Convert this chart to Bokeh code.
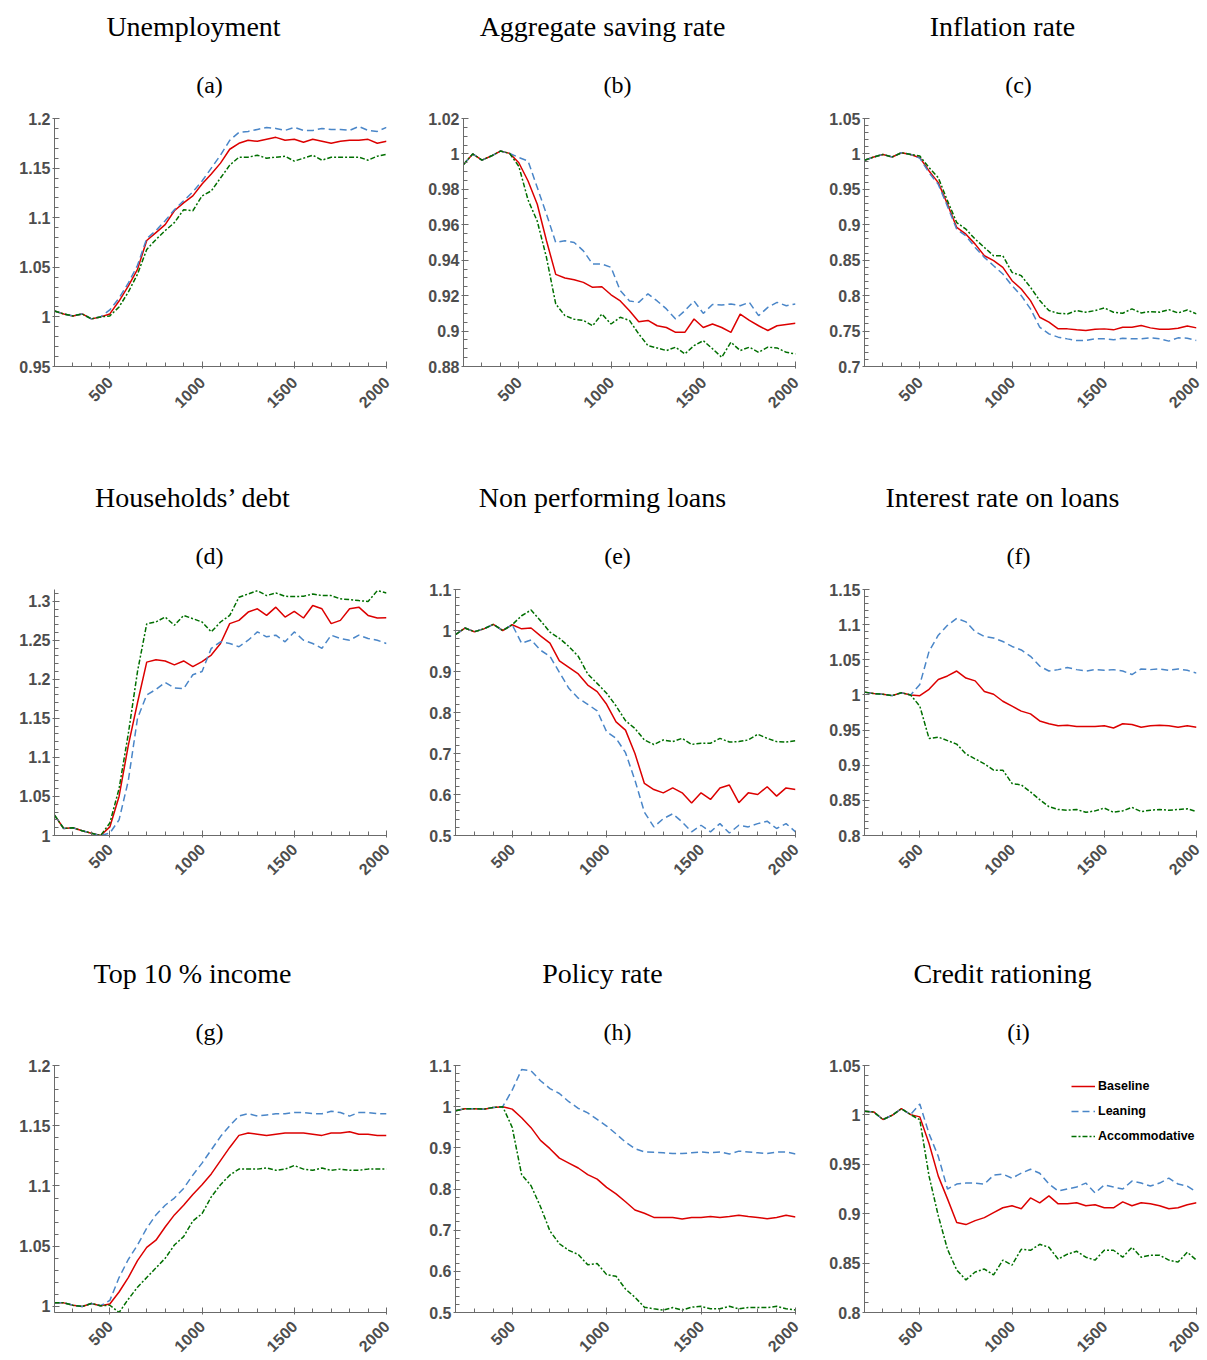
from math import pi
from bokeh.plotting import figure
from bokeh.models import (Range1d, FixedTicker, NumeralTickFormatter, Title, Legend, LegendItem)
from bokeh.layouts import column, row
from bokeh.embed import file_html
from bokeh.resources import INLINE

# ---------------- data ----------------
time = list(range(200, 2001, 50))

unemp_base = [1.006, 1.003, 1.001, 1.003, 0.998, 1.000, 1.003, 1.016, 1.031, 1.048, 1.077, 1.085, 1.093, 1.107, 1.115, 1.122, 1.134, 1.144, 1.155, 1.169, 1.175, 1.178, 1.177, 1.179, 1.181, 1.178, 1.179, 1.176, 1.179, 1.177, 1.175, 1.177, 1.178, 1.178, 1.179, 1.175, 1.177]
unemp_lean = [1.006, 1.003, 1.001, 1.003, 0.998, 1.000, 1.007, 1.019, 1.034, 1.052, 1.079, 1.087, 1.097, 1.108, 1.117, 1.126, 1.137, 1.150, 1.163, 1.178, 1.186, 1.187, 1.189, 1.191, 1.190, 1.188, 1.191, 1.188, 1.188, 1.190, 1.189, 1.189, 1.188, 1.192, 1.188, 1.187, 1.191]
unemp_acc = [1.006, 1.003, 1.001, 1.003, 0.998, 1.000, 1.001, 1.010, 1.025, 1.043, 1.068, 1.078, 1.087, 1.095, 1.108, 1.107, 1.122, 1.127, 1.140, 1.153, 1.161, 1.161, 1.163, 1.160, 1.161, 1.162, 1.157, 1.160, 1.163, 1.158, 1.161, 1.161, 1.161, 1.161, 1.158, 1.162, 1.164]

saving_base = [0.994, 1.000, 0.9965, 0.9988, 1.0016, 1.0003, 0.995, 0.9847, 0.9716, 0.951, 0.932, 0.930, 0.929, 0.9275, 0.9247, 0.925, 0.9205, 0.917, 0.9115, 0.9053, 0.906, 0.903, 0.902, 0.8993, 0.8993, 0.9068, 0.902, 0.904, 0.902, 0.8993, 0.9096, 0.906, 0.903, 0.9003, 0.903, 0.9037, 0.9044]
saving_lean = [0.994, 1.000, 0.9965, 0.9988, 1.0016, 1.0003, 0.998, 0.996, 0.981, 0.966, 0.950, 0.951, 0.950, 0.9453, 0.9378, 0.9378, 0.936, 0.9228, 0.917, 0.9162, 0.921, 0.917, 0.9125, 0.9068, 0.9115, 0.917, 0.910, 0.915, 0.9147, 0.9153, 0.9143, 0.9162, 0.9087, 0.9134, 0.9162, 0.9143, 0.9153]
saving_acc = [0.994, 1.000, 0.9965, 0.9988, 1.0016, 1.0003, 0.993, 0.974, 0.962, 0.9415, 0.9153, 0.9087, 0.9067, 0.906, 0.903, 0.9096, 0.904, 0.9078, 0.906, 0.8984, 0.8918, 0.8905, 0.889, 0.8909, 0.8871, 0.8918, 0.8946, 0.890, 0.8852, 0.8937, 0.889, 0.8909, 0.888, 0.8909, 0.8905, 0.888, 0.8871]

infl_base = [0.991, 0.9956, 0.9993, 0.9956, 1.0017, 0.9993, 0.9947, 0.976, 0.9595, 0.929, 0.8962, 0.8868, 0.8727, 0.8563, 0.8493, 0.8399, 0.8211, 0.8094, 0.793, 0.7695, 0.7625, 0.7531, 0.7531, 0.7517, 0.7508, 0.7526, 0.7531, 0.7517, 0.7555, 0.7555, 0.7578, 0.7545, 0.7526, 0.7526, 0.754, 0.7573, 0.7545]
infl_lean = [0.991, 0.9956, 0.9993, 0.9956, 1.0017, 0.9993, 0.994, 0.9735, 0.957, 0.926, 0.8938, 0.8844, 0.868, 0.854, 0.8422, 0.8305, 0.814, 0.800, 0.7813, 0.7555, 0.746, 0.7414, 0.739, 0.7367, 0.7367, 0.739, 0.739, 0.7376, 0.740, 0.739, 0.739, 0.7404, 0.739, 0.7358, 0.7404, 0.740, 0.7367]
infl_acc = [0.991, 0.9956, 0.9993, 0.9956, 1.0017, 0.9993, 0.997, 0.9806, 0.9665, 0.9337, 0.9032, 0.8938, 0.8797, 0.868, 0.8563, 0.8563, 0.8328, 0.8282, 0.8117, 0.793, 0.7789, 0.7752, 0.7742, 0.7789, 0.7766, 0.7789, 0.7827, 0.7766, 0.7752, 0.7813, 0.7756, 0.7775, 0.7766, 0.7803, 0.7756, 0.7798, 0.7742]

debt_base = [1.026, 1.009, 1.010, 1.006, 1.003, 1.000, 1.011, 1.050, 1.115, 1.170, 1.222, 1.225, 1.2235, 1.2185, 1.2235, 1.2163, 1.2227, 1.2311, 1.2459, 1.2713, 1.2755, 1.2861, 1.2903, 1.2818, 1.2924, 1.2797, 1.2869, 1.2785, 1.2945, 1.2903, 1.2713, 1.2755, 1.2903, 1.2924, 1.2818, 1.2785, 1.2789]
debt_lean = [1.026, 1.009, 1.010, 1.006, 1.003, 1.000, 1.003, 1.020, 1.070, 1.150, 1.180, 1.187, 1.1961, 1.1889, 1.188, 1.2058, 1.210, 1.2396, 1.248, 1.2459, 1.2417, 1.2501, 1.2607, 1.2544, 1.2565, 1.248, 1.2607, 1.2501, 1.2459, 1.2396, 1.2565, 1.2523, 1.2501, 1.2565, 1.2523, 1.2501, 1.2459]
debt_acc = [1.026, 1.009, 1.010, 1.006, 1.003, 1.000, 1.016, 1.060, 1.130, 1.210, 1.271, 1.2734, 1.2797, 1.2692, 1.2818, 1.2776, 1.2734, 1.2607, 1.2734, 1.2818, 1.305, 1.3093, 1.3135, 1.3072, 1.3106, 1.3063, 1.3059, 1.3063, 1.3093, 1.3072, 1.3072, 1.303, 1.3021, 1.3008, 1.2996, 1.3135, 1.3106]

npl_base = [0.990, 1.006, 0.997, 1.004, 1.015, 1.000, 1.014, 1.004, 1.006, 0.987, 0.969, 0.926, 0.910, 0.894, 0.867, 0.851, 0.820, 0.777, 0.757, 0.700, 0.627, 0.612, 0.604, 0.616, 0.604, 0.579, 0.604, 0.588, 0.616, 0.623, 0.580, 0.604, 0.600, 0.619, 0.596, 0.616, 0.612]
npl_lean = [0.990, 1.006, 0.997, 1.004, 1.015, 1.000, 1.014, 0.969, 0.977, 0.952, 0.937, 0.898, 0.859, 0.835, 0.820, 0.804, 0.753, 0.737, 0.702, 0.635, 0.557, 0.521, 0.541, 0.553, 0.533, 0.509, 0.525, 0.509, 0.529, 0.506, 0.525, 0.521, 0.529, 0.535, 0.517, 0.529, 0.509]
npl_acc = [0.990, 1.006, 0.997, 1.004, 1.015, 1.000, 1.014, 1.036, 1.050, 1.024, 0.996, 0.981, 0.961, 0.937, 0.894, 0.871, 0.847, 0.816, 0.780, 0.761, 0.733, 0.722, 0.733, 0.729, 0.737, 0.722, 0.725, 0.725, 0.737, 0.728, 0.729, 0.733, 0.747, 0.737, 0.729, 0.728, 0.731]

loanrate_base = [1.004, 1.002, 1.001, 0.999, 1.003, 1.000, 0.999, 1.008, 1.022, 1.027, 1.034, 1.024, 1.020, 1.005, 1.001, 0.991, 0.984, 0.977, 0.973, 0.963, 0.959, 0.956, 0.957, 0.955, 0.955, 0.955, 0.956, 0.953, 0.959, 0.958, 0.954, 0.956, 0.957, 0.956, 0.954, 0.956, 0.954]
loanrate_lean = [1.004, 1.002, 1.001, 0.999, 1.003, 1.000, 1.015, 1.062, 1.085, 1.099, 1.109, 1.104, 1.090, 1.083, 1.081, 1.076, 1.069, 1.064, 1.055, 1.041, 1.034, 1.036, 1.039, 1.036, 1.034, 1.036, 1.035, 1.036, 1.034, 1.029, 1.037, 1.036, 1.037, 1.035, 1.037, 1.035, 1.031]
loanrate_acc = [1.004, 1.002, 1.001, 0.999, 1.003, 1.000, 0.984, 0.938, 0.940, 0.935, 0.930, 0.916, 0.909, 0.902, 0.893, 0.893, 0.874, 0.872, 0.862, 0.851, 0.841, 0.837, 0.836, 0.837, 0.833, 0.835, 0.839, 0.833, 0.835, 0.840, 0.834, 0.836, 0.837, 0.836, 0.837, 0.838, 0.834]

top10_base = [1.003, 1.003, 1.001, 1.000, 1.0025, 1.0006, 1.002, 1.012, 1.024, 1.038, 1.049, 1.055, 1.066, 1.076, 1.084, 1.093, 1.101, 1.110, 1.121, 1.132, 1.142, 1.144, 1.143, 1.142, 1.143, 1.144, 1.144, 1.144, 1.143, 1.142, 1.144, 1.144, 1.145, 1.143, 1.143, 1.142, 1.142]
top10_lean = [1.003, 1.003, 1.001, 1.000, 1.0025, 1.0006, 1.005, 1.024, 1.039, 1.051, 1.065, 1.076, 1.084, 1.090, 1.098, 1.109, 1.119, 1.130, 1.141, 1.150, 1.158, 1.160, 1.158, 1.159, 1.160, 1.160, 1.161, 1.161, 1.160, 1.160, 1.162, 1.161, 1.158, 1.161, 1.161, 1.160, 1.160]
top10_acc = [1.003, 1.003, 1.001, 1.000, 1.0025, 1.0006, 1.001, 0.995, 1.006, 1.016, 1.024, 1.032, 1.040, 1.051, 1.058, 1.071, 1.077, 1.091, 1.101, 1.109, 1.114, 1.114, 1.114, 1.115, 1.113, 1.114, 1.117, 1.114, 1.113, 1.115, 1.113, 1.114, 1.113, 1.113, 1.114, 1.114, 1.114]

policy_base = [0.990, 0.995, 0.995, 0.994, 0.998, 1.000, 0.994, 0.973, 0.949, 0.918, 0.898, 0.875, 0.863, 0.851, 0.835, 0.824, 0.804, 0.788, 0.769, 0.749, 0.741, 0.731, 0.731, 0.731, 0.727, 0.731, 0.731, 0.733, 0.731, 0.733, 0.736, 0.733, 0.731, 0.728, 0.731, 0.736, 0.732]
policy_lean = [0.990, 0.995, 0.995, 0.994, 0.998, 1.000, 1.040, 1.090, 1.087, 1.063, 1.044, 1.032, 1.012, 0.996, 0.985, 0.969, 0.953, 0.934, 0.914, 0.898, 0.890, 0.889, 0.888, 0.886, 0.886, 0.888, 0.890, 0.888, 0.890, 0.885, 0.892, 0.890, 0.888, 0.886, 0.890, 0.890, 0.885]
policy_acc = [0.990, 0.995, 0.995, 0.994, 0.998, 1.000, 0.950, 0.835, 0.808, 0.757, 0.698, 0.667, 0.651, 0.641, 0.616, 0.619, 0.592, 0.588, 0.557, 0.537, 0.513, 0.509, 0.506, 0.512, 0.506, 0.513, 0.515, 0.509, 0.509, 0.515, 0.509, 0.512, 0.512, 0.512, 0.515, 0.509, 0.506]

ration_base = [1.0036, 1.003, 0.9953, 0.9996, 1.0063, 1.0003, 0.998, 0.971, 0.938, 0.915, 0.891, 0.889, 0.893, 0.896, 0.901, 0.906, 0.908, 0.905, 0.916, 0.911, 0.918, 0.910, 0.910, 0.911, 0.908, 0.909, 0.906, 0.906, 0.912, 0.908, 0.911, 0.910, 0.908, 0.905, 0.906, 0.909, 0.911]
ration_lean = [1.0036, 1.003, 0.9953, 0.9996, 1.0063, 1.0003, 1.011, 0.981, 0.958, 0.925, 0.930, 0.931, 0.931, 0.930, 0.939, 0.940, 0.936, 0.941, 0.945, 0.941, 0.930, 0.923, 0.925, 0.927, 0.931, 0.921, 0.929, 0.927, 0.925, 0.933, 0.931, 0.928, 0.931, 0.936, 0.930, 0.928, 0.922]
ration_acc = [1.0036, 1.003, 0.9953, 0.9996, 1.0063, 1.0003, 0.995, 0.938, 0.898, 0.864, 0.843, 0.833, 0.841, 0.844, 0.838, 0.853, 0.848, 0.864, 0.863, 0.869, 0.866, 0.854, 0.859, 0.862, 0.856, 0.853, 0.863, 0.863, 0.856, 0.866, 0.856, 0.858, 0.858, 0.853, 0.851, 0.861, 0.853]

series_names = ["Baseline", "Leaning", "Accommodative"]
x_major = [500, 1000, 1500, 2000]
x_minor = list(range(200, 2001, 100))

# ---------------- style ----------------
SANS = "Liberation Sans"
SERIF = "Liberation Serif"
GREY = "#4d4d4d"
AXIS = "#6b6b6b"
COLORS = ["#dc0000", "#4a86c8", "#006f00"]
DASHES = ["solid", "7 4", "5 2 2 2"]

# Times/Liberation Serif advance widths (per 1000 em), used to centre titles
TW = {' ': 250, '%': 833, '(': 333, ')': 333, '0': 500, '1': 500, '’': 333,
      'A': 722, 'C': 667, 'H': 722, 'I': 333, 'N': 722, 'P': 556, 'T': 611, 'U': 722,
      'a': 444, 'b': 500, 'c': 444, 'd': 500, 'e': 444, 'f': 333, 'g': 500, 'h': 500,
      'i': 278, 'k': 500, 'l': 278, 'm': 778, 'n': 500, 'o': 500, 'p': 500, 'r': 333,
      's': 389, 't': 278, 'u': 500, 'v': 500, 'y': 500}


def text_w(s, size):
    return sum(TW.get(ch, 500) for ch in s) / 1000.0 * size


def make_panel(title, letter, ys, ylo, yhi, yticks, yminor, size, borders,
               centers, standoffs, xstand, legend=False):
    w, h = size
    bl, br, bt, bb = borders
    p = figure(width=w, height=h, x_range=Range1d(200, 2000), y_range=Range1d(ylo, yhi),
               output_backend="svg", toolbar_location=None, title=None,
               min_border_left=bl, min_border_right=br, min_border_top=bt, min_border_bottom=bb)
    p.outline_line_color = None
    p.xgrid.grid_line_color = None
    p.ygrid.grid_line_color = None
    p.background_fill_color = "white"
    p.border_fill_color = "white"

    for ax in (p.xaxis[0], p.yaxis[0]):
        ax.axis_line_color = AXIS
        ax.major_tick_line_color = AXIS
        ax.minor_tick_line_color = AXIS
        ax.major_tick_in = 5
        ax.major_tick_out = 2
        ax.minor_tick_in = 4
        ax.minor_tick_out = 0
        ax.major_label_text_font = SANS
        ax.major_label_text_font_style = "bold"
        ax.major_label_text_font_size = "16px"
        ax.major_label_text_color = GREY

    xa = p.xaxis[0]
    xa.ticker = FixedTicker(ticks=x_major, minor_ticks=x_minor)
    xa.major_label_orientation = pi / 4
    xa.major_label_standoff = xstand

    ya = p.yaxis[0]
    ya.ticker = FixedTicker(ticks=yticks, minor_ticks=yminor)
    ya.formatter = NumeralTickFormatter(format="0.[00]")
    ya.major_label_standoff = 2

    renderers = []
    for vals, c, d in zip(ys, COLORS, DASHES):
        r = p.line(time, vals, line_color=c, line_width=1.5, line_dash=d)
        renderers.append(r)

    tc, sc = centers
    ts, ss = standoffs
    p.add_layout(Title(text=letter, align="left", offset=sc - bl - text_w(letter, 24) / 2,
                       standoff=ss, text_font=SERIF, text_font_size="24px",
                       text_font_style="normal", text_color="black"), "above")
    p.add_layout(Title(text=title, align="left", offset=tc - bl - text_w(title, 28) / 2,
                       standoff=ts, text_font=SERIF, text_font_size="28px",
                       text_font_style="normal", text_color="black"), "above")

    if legend:
        items = [LegendItem(label=n, renderers=[r]) for n, r in zip(series_names, renderers)]
        lg = Legend(items=items, location=(207, 166), border_line_color=None,
                    background_fill_alpha=0, padding=0, margin=0, spacing=5,
                    label_height=20, glyph_height=20, glyph_width=24, label_standoff=3,
                    label_text_font=SANS, label_text_font_style="bold",
                    label_text_font_size="12.5px", label_text_color="black")
        p.add_layout(lg)
    return p


def rng(a, step, n):
    return [round(a + i * step, 4) for i in range(n + 1)]


C1 = (193, 209)
C2 = (602 - 418, 617 - 418)
C3 = (1002 - 818, 1018 - 818)
STD = (14, 42)

pa = make_panel("Unemployment", "(a)", [unemp_base, unemp_lean, unemp_acc], 0.95, 1.2,
                [0.95, 1, 1.05, 1.1, 1.15, 1.2], rng(0.95, 0.01, 25),
                (418, 470), (54, 32, 118, 104), C1, STD, 11)
pb = make_panel("Aggregate saving rate", "(b)", [saving_base, saving_lean, saving_acc], 0.88, 1.02,
                [0.88, 0.9, 0.92, 0.94, 0.96, 0.98, 1, 1.02], rng(0.88, 0.005, 28),
                (400, 470), (45, 23, 118, 104), C2, STD, 11)
pc = make_panel("Inflation rate", "(c)", [infl_base, infl_lean, infl_acc], 0.7, 1.05,
                [0.7, 0.75, 0.8, 0.85, 0.9, 0.95, 1, 1.05], rng(0.7, 0.01, 35),
                (389, 470), (46, 11, 118, 104), C3, STD, 11)

pd_ = make_panel("Households’ debt", "(d)", [debt_base, debt_lean, debt_acc], 1.0, 1.315,
                 [1, 1.05, 1.1, 1.15, 1.2, 1.25, 1.3], rng(1.0, 0.01, 31),
                 (418, 475), (54, 32, 117, 110), C1, STD, 9)
pe = make_panel("Non performing loans", "(e)", [npl_base, npl_lean, npl_acc], 0.5, 1.1,
                [0.5, 0.6, 0.7, 0.8, 0.9, 1, 1.1], rng(0.5, 0.02, 30),
                (400, 475), (37, 23, 116, 105), C2, STD, 9)
pf = make_panel("Interest rate on loans", "(f)", [loanrate_base, loanrate_lean, loanrate_acc], 0.8, 1.15,
                [0.8, 0.85, 0.9, 0.95, 1, 1.05, 1.1, 1.15], rng(0.8, 0.01, 35),
                (389, 475), (46, 11, 119, 107), C3, STD, 9)

pg = make_panel("Top 10 % income", "(g)", [top10_base, top10_lean, top10_acc], 0.995, 1.2,
                [1, 1.05, 1.1, 1.15, 1.2], rng(1.0, 0.01, 20),
                (418, 415), (54, 32, 119, 47), C1, STD, 9)
ph = make_panel("Policy rate", "(h)", [policy_base, policy_lean, policy_acc], 0.5, 1.1,
                [0.5, 0.6, 0.7, 0.8, 0.9, 1, 1.1], rng(0.5, 0.02, 30),
                (400, 415), (37, 23, 116, 44), C2, STD, 9)
pi_ = make_panel("Credit rationing", "(i)", [ration_base, ration_lean, ration_acc], 0.8, 1.05,
                 [0.8, 0.85, 0.9, 0.95, 1, 1.05], rng(0.8, 0.01, 25),
                 (389, 415), (46, 11, 120, 46), C3, STD, 9, legend=True)

layout = column(row(pa, pb, pc), row(pd_, pe, pf), row(pg, ph, pi_))
open("out.html", "w").write(file_html(layout, INLINE))
